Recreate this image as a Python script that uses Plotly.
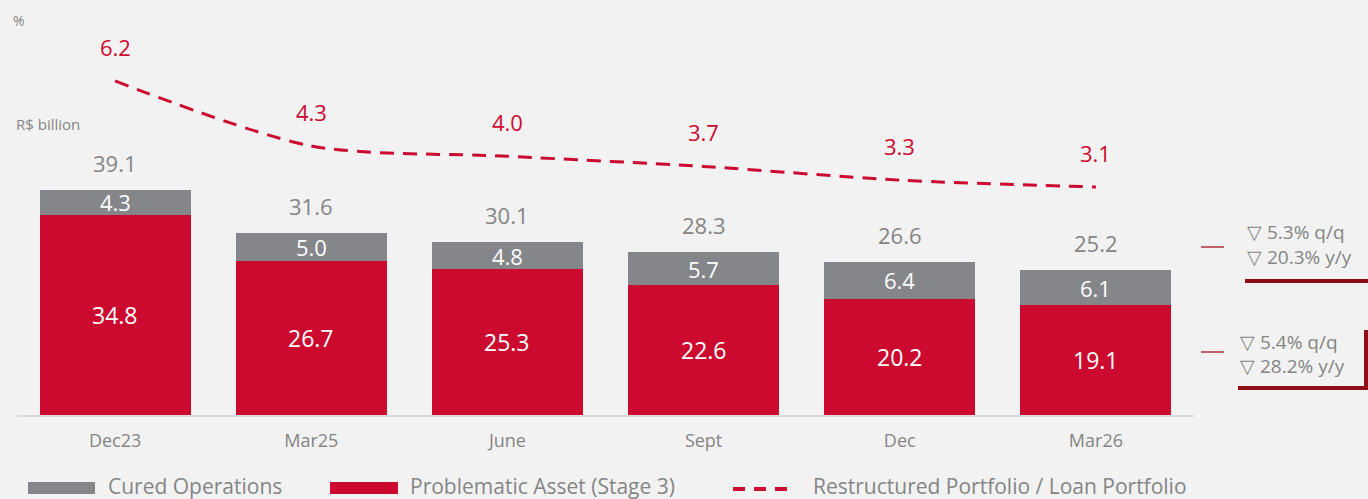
import plotly.graph_objects as go

# ---- data ----
categories = ["Dec23", "Mar25", "June", "Sept", "Dec", "Mar26"]
problematic = [34.8, 26.7, 25.3, 22.6, 20.2, 19.1]
cured = [4.3, 5.0, 4.8, 5.7, 6.4, 6.1]
totals = [39.1, 31.6, 30.1, 28.3, 26.6, 25.2]
restructured_pct = [6.2, 4.3, 4.0, 3.7, 3.3, 3.1]

qq_cured = ["▽ 5.3% q/q", "▽ 20.3% y/y"]
qq_problematic = ["▽ 5.4% q/q", "▽ 28.2% y/y"]

# ---- style ----
BG = "#F2F2F2"
RED = "#CC0A2F"
GRAY_BAR = "#85868A"
TEXT_GRAY = "#858585"
DARK_RED = "#8E0E17"
FONT = "Open Sans, sans-serif"

W, H = 1368, 499
L, R, T, B = 17, 1194, 40, 415   # plot area in pixels


def px(x):
    return (x - L) / (R - L)


def py(y):
    return (B - y) / (B - T)


def note(x, y, text, size, color=TEXT_GRAY, anchor="left"):
    return dict(x=px(x), y=py(y), xref="paper", yref="paper", text=text,
                xanchor=anchor, yanchor="middle", showarrow=False,
                font=dict(size=size, color=color))


fig = go.Figure()

fig.add_trace(go.Bar(
    x=categories, y=problematic, name="Problematic Asset (Stage 3)",
    marker=dict(color=RED, line=dict(width=0)), width=0.77,
    hoverinfo="x+y", showlegend=False,
))
fig.add_trace(go.Bar(
    x=categories, y=cured, name="Cured Operations",
    marker=dict(color=GRAY_BAR, line=dict(width=0)), width=0.77,
    hoverinfo="x+y", showlegend=False,
))
fig.add_trace(go.Scatter(
    x=categories, y=restructured_pct, yaxis="y2", mode="lines",
    name="Restructured Portfolio / Loan Portfolio",
    line=dict(color=RED, width=3, dash="14px,9px", shape="spline", smoothing=0.8),
    showlegend=False,
))

annotations = []
for cat, p, c, t, r in zip(categories, problematic, cured, totals, restructured_pct):
    annotations.append(dict(x=cat, y=p / 2, xref="x", yref="y", text=f"{p:.1f}",
                            showarrow=False, font=dict(size=23, color="white")))
    annotations.append(dict(x=cat, y=p + c / 2, xref="x", yref="y", text=f"{c:.1f}",
                            showarrow=False, font=dict(size=22, color="white")))
    annotations.append(dict(x=cat, y=t, xref="x", yref="y", text=f"{t:.1f}", yshift=27,
                            showarrow=False, font=dict(size=22, color=TEXT_GRAY)))
    annotations.append(dict(x=cat, y=r, xref="x", yref="y2", text=f"{r:.1f}", yshift=34,
                            showarrow=False, font=dict(size=22, color=RED)))

# units
annotations.append(note(11, 20, "%", 14))
annotations.append(note(14, 124, "R$ billion", 15))

# right side variation notes
for lines, x0, ys in [(qq_cured, 1245, (232, 257)), (qq_problematic, 1238, (342, 366))]:
    for txt, yy in zip(lines, ys):
        annotations.append(note(x0, yy, txt, 19))

# custom legend
legend_items = [("Cured Operations", 106), ("Problematic Asset (Stage 3)", 408),
                ("Restructured Portfolio / Loan Portfolio", 811)]
for txt, x0 in legend_items:
    annotations.append(note(x0, 486, txt, 21))

shapes = [
    dict(type="rect", xref="paper", yref="paper", x0=px(28), x1=px(95), y0=py(494), y1=py(482),
         fillcolor=GRAY_BAR, line=dict(width=0)),
    dict(type="rect", xref="paper", yref="paper", x0=px(330), x1=px(398), y0=py(494), y1=py(482),
         fillcolor=RED, line=dict(width=0)),
    dict(type="line", xref="paper", yref="paper", x0=px(733), x1=px(795), y0=py(489), y1=py(489),
         line=dict(color=RED, width=4, dash="12px,9px")),
    # small connector dashes
    dict(type="line", xref="paper", yref="paper", x0=px(1201), x1=px(1224), y0=py(247), y1=py(247),
         line=dict(color="#B0303A", width=1.5)),
    dict(type="line", xref="paper", yref="paper", x0=px(1201), x1=px(1224), y0=py(352), y1=py(352),
         line=dict(color="#B0303A", width=1.5)),
    # dark red brackets
    dict(type="line", xref="paper", yref="paper", x0=px(1245), x1=px(1368), y0=py(281), y1=py(281),
         line=dict(color=DARK_RED, width=4)),
    dict(type="line", xref="paper", yref="paper", x0=px(1238), x1=px(1368), y0=py(388), y1=py(388),
         line=dict(color=DARK_RED, width=4)),
    dict(type="line", xref="paper", yref="paper", x0=px(1366), x1=px(1366), y0=py(330), y1=py(390),
         line=dict(color=DARK_RED, width=4)),
]

fig.update_layout(
    width=W, height=H,
    margin=dict(l=L, r=W - R, t=T, b=H - B),
    paper_bgcolor=BG, plot_bgcolor=BG,
    font=dict(family=FONT, color=TEXT_GRAY),
    barmode="stack", bargap=0.23,
    showlegend=False,
    xaxis=dict(type="category", range=[-0.5, 5.5], showgrid=False, zeroline=False,
               showline=True, linecolor="#D9D9D9", linewidth=2,
               ticks="outside", ticklen=8, tickcolor="rgba(0,0,0,0)",
               tickfont=dict(size=18, color=TEXT_GRAY)),
    yaxis=dict(range=[0, 65.17], visible=False, showgrid=False, zeroline=False),
    yaxis2=dict(range=[-3.567, 7.398], overlaying="y", visible=False,
                showgrid=False, zeroline=False),
    annotations=annotations,
    shapes=shapes,
)

fig.write_html("out.html", config={"displayModeBar": False},
               post_script="document.body.style.margin='0px';")
